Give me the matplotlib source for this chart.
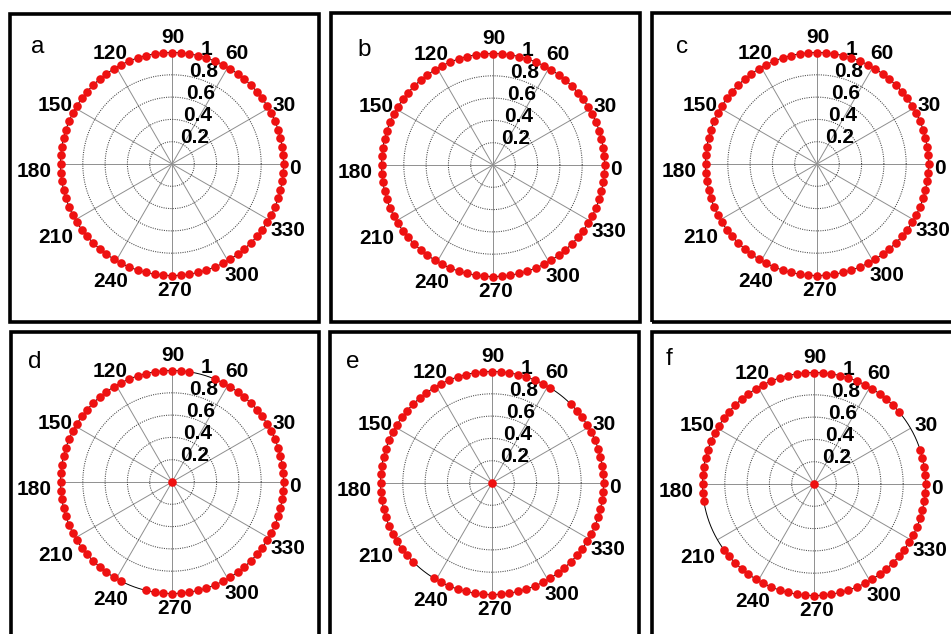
import numpy as np
import matplotlib
matplotlib.use("Agg")
import matplotlib.pyplot as plt
from matplotlib.patches import Rectangle

# ---------------- data ----------------
PANEL_LETTERS = ["a", "b", "c", "d", "e", "f"]

ANGLES_DEG = [0, 4.5, 9, 13.5, 18, 22.5, 27, 31.5, 36, 40.5, 45, 49.5, 54, 58.5,
              63, 67.5, 72, 76.5, 81, 85.5, 90, 94.5, 99, 103.5, 108, 112.5, 117,
              121.5, 126, 130.5, 135, 139.5, 144, 148.5, 153, 157.5, 162, 166.5,
              171, 175.5, 180, 184.5, 189, 193.5, 198, 202.5, 207, 211.5, 216,
              220.5, 225, 229.5, 234, 238.5, 243, 247.5, 252, 256.5, 261, 265.5,
              270, 274.5, 279, 283.5, 288, 292.5, 297, 301.5, 306, 310.5, 315,
              319.5, 324, 328.5, 333, 337.5, 342, 346.5, 351, 355.5]
RING_RADIUS = 1.0

MISSING_A = []
MISSING_B = []
MISSING_C = []
MISSING_D = [72, 76.5, 247.5, 252]
MISSING_E = [49.5, 54, 229.5, 234]
MISSING_F = [22.5, 27, 31.5, 36, 193.5, 198, 202.5, 207, 211.5]

CENTER_POINT = [False, False, False, True, True, True]

ANGLE_TICKS = [0, 30, 60, 90, 120, 150, 180, 210, 240, 270, 300, 330]
RADIAL_TICKS = [0.2, 0.4, 0.6, 0.8, 1.0]
RADIAL_LABELS = ["0.2", "0.4", "0.6", "0.8", "1"]

# ---------------- layout (pixels in a 951x634 canvas) ----------------
W, H = 951, 634
RPX = 111.5
CENTERS = [(172, 164), (493, 165), (817, 164), (172, 482), (492, 483), (814, 484)]
BOXES = [(10, 14, 319, 322), (331, 13, 640, 322), (652, 13, 965, 322),
         (11, 332, 319, 650), (330, 332, 639, 650), (652, 332, 965, 650)]
LETTER_POS = [(31, 53), (357, 56), (676, 53), (28, 368), (346, 368), (666, 365)]
# label placement (radius factor, angle deg) of each angle tick label
LAB_R = [1.107, 1.138, 1.148, 1.134, 1.135, 1.17, 1.243, 1.236, 1.19, 1.134, 1.179, 1.196]
LAB_T = [-2, 27.6, 59.6, 89.5, 119.2, 153.2, 183.3, 212.3, 242.3, 271.4, 302, 330]

FONT = "Liberation Sans"
missing_all = [MISSING_A, MISSING_B, MISSING_C, MISSING_D, MISSING_E, MISSING_F]

fig = plt.figure(figsize=(W / 100, H / 100), dpi=100)
fig.patch.set_facecolor("white")

for (x0, y0, x1, y1) in BOXES:
    fig.patches.append(Rectangle((x0 / W, 1 - y1 / H), (x1 - x0) / W, (y1 - y0) / H,
                                 transform=fig.transFigure, fill=False,
                                 ec="black", lw=2.6, zorder=0))

circ = np.linspace(0, 2 * np.pi, 721)

for i, (cx, cy) in enumerate(CENTERS):
    ax = fig.add_axes([(cx - RPX) / W, (H - cy - RPX) / H, 2 * RPX / W, 2 * RPX / H],
                      projection="polar")
    ax.set_axis_off()
    ax.set_ylim(0, 1)
    # spokes
    for t in ANGLE_TICKS:
        ax.plot([np.deg2rad(t), np.deg2rad(t)], [0, 1], color="#8f8f8f", lw=0.7, zorder=1)
    # inner dotted circles
    for rv in RADIAL_TICKS[:-1]:
        ax.plot(circ, np.full_like(circ, rv), color="#444444", lw=0.75,
                linestyle=(0, (1, 1.2)), zorder=1)
    # outer solid circle
    ax.plot(circ, np.full_like(circ, RADIAL_TICKS[-1]), color="black", lw=0.7,
            zorder=2, clip_on=False)
    # data
    th = [a for a in ANGLES_DEG if a not in missing_all[i]]
    rr = [RING_RADIUS] * len(th)
    if CENTER_POINT[i]:
        th = th + [0]
        rr = rr + [0.0]
    ax.plot(np.deg2rad(th), rr, linestyle="none", marker="o", ms=6.2,
            mfc="#ee1111", mec="#ee1111", mew=0, zorder=5, clip_on=False)
    # angle labels
    for t, lr, lt in zip(ANGLE_TICKS, LAB_R, LAB_T):
        ax.text(np.deg2rad(lt), lr, str(t), ha="center", va="center",
                fontsize=15, family=FONT, fontweight="bold", color="black",
                clip_on=False)
    # radial labels at 82 degrees
    for rv, lab in zip(RADIAL_TICKS, RADIAL_LABELS):
        ax.annotate(lab, xy=(np.deg2rad(82), rv + 0.01), xytext=(13.7, 2.2),
                    textcoords="offset points", ha="center", va="center",
                    fontsize=15, family=FONT, fontweight="bold", color="black",
                    annotation_clip=False)
    lx, ly = LETTER_POS[i]
    fig.text(lx / W, 1 - ly / H, PANEL_LETTERS[i], ha="left", va="baseline",
             fontsize=17.5, family=FONT, color="black")

fig.savefig("out.png", dpi=100, facecolor="white")
